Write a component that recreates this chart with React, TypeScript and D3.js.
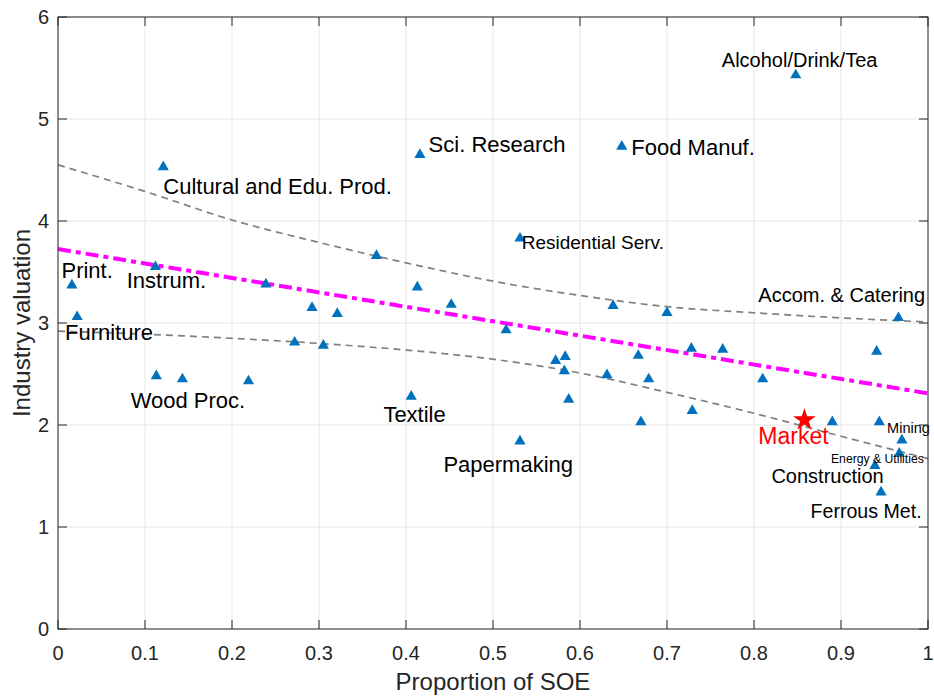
import React from "react";
import * as d3 from "d3";

// ---------- data ----------
const SOE_SHARE = [
  0.016, 0.022, 0.121, 0.112, 0.113, 0.143, 0.219, 0.239, 0.292, 0.321, 0.272,
  0.305, 0.416, 0.648, 0.531, 0.366, 0.413, 0.452, 0.638, 0.515, 0.572, 0.583,
  0.582, 0.631, 0.667, 0.679, 0.406, 0.587, 0.670, 0.531, 0.700, 0.966, 0.728,
  0.764, 0.941, 0.810, 0.729, 0.890, 0.944, 0.970, 0.967, 0.939, 0.946, 0.848,
];
const VALUATION = [
  3.37, 3.06, 4.53, 3.55, 2.48, 2.45, 2.43, 3.38, 3.15, 3.09, 2.81,
  2.78, 4.65, 4.73, 3.83, 3.66, 3.35, 3.18, 3.17, 2.93, 2.63, 2.67,
  2.53, 2.49, 2.68, 2.45, 2.28, 2.25, 2.03, 1.84, 3.10, 3.05, 2.75,
  2.74, 2.72, 2.45, 2.14, 2.03, 2.03, 1.85, 1.72, 1.60, 1.34, 5.43,
];

const MARKET_X = [0.858];
const MARKET_Y = [2.06];

const FIT_X = [0, 1];
const FIT_Y = [3.725, 2.31];

const BAND_X = [0, 0.1, 0.2, 0.3, 0.4, 0.5, 0.6, 0.7, 0.8, 0.9, 1.0];
const BAND_UPPER = [4.55, 4.29, 4.01, 3.79, 3.59, 3.41, 3.27, 3.16, 3.10, 3.05, 3.01];
const BAND_LOWER = [2.92, 2.89, 2.85, 2.80, 2.735, 2.645, 2.51, 2.32, 2.115, 1.89, 1.67];

const LABEL_TEXT = [
  "Alcohol/Drink/Tea", "Sci. Research", "Food Manuf.", "Cultural and Edu. Prod.",
  "Residential Serv.", "Print.", "Instrum.", "Furniture", "Wood Proc.", "Textile",
  "Papermaking", "Accom. & Catering", "Mining", "Energy & Utilities",
  "Construction", "Ferrous Met.",
];
const LABEL_X = [
  0.763, 0.426, 0.659, 0.121, 0.533, 0.004, 0.079, 0.008, 0.0835, 0.374,
  0.443, 0.805, 0.953, 0.8885, 0.820, 0.865,
];
const LABEL_Y = [
  5.51, 4.68, 4.65, 4.265, 3.73, 3.44, 3.34, 2.83, 2.17, 2.03,
  1.54, 3.21, 1.92, 1.63, 1.43, 1.085,
];
const LABEL_SIZE = [20, 22, 22, 22, 19, 22, 22, 22, 22, 22, 22, 20, 14.5, 12.2, 20, 19.6];

const MARKET_LABEL = ["Market"];
const MARKET_LABEL_X = [0.805];
const MARKET_LABEL_Y = [1.81];

const X_TICKS = [0, 0.1, 0.2, 0.3, 0.4, 0.5, 0.6, 0.7, 0.8, 0.9, 1];
const X_TICK_LABELS = ["0", "0.1", "0.2", "0.3", "0.4", "0.5", "0.6", "0.7", "0.8", "0.9", "1"];
const Y_TICKS = [0, 1, 2, 3, 4, 5, 6];
const Y_TICK_LABELS = ["0", "1", "2", "3", "4", "5", "6"];

const X_TITLE = "Proportion of SOE";
const Y_TITLE = "Industry valuation";

// ---------- layout ----------
const W = 934;
const H = 696;
const M = { left: 58, right: 928, top: 17, bottom: 629 };
const FONT = "'Liberation Sans', Arial, Helvetica, sans-serif";
const AXIS = "#262626";
const TICK_LEN = 9;

export default function App() {
  const x = d3.scaleLinear().domain([0, 1]).range([M.left, M.right]);
  const y = d3.scaleLinear().domain([0, 6]).range([M.bottom, M.top]);

  const bandLine = d3
    .line<number>()
    .x((_, i) => x(BAND_X[i]))
    .y((d) => y(d))
    .curve(d3.curveMonotoneX);

  const fitLine = d3
    .line<number>()
    .x((_, i) => x(FIT_X[i]))
    .y((d) => y(d));

  const tri = d3.symbol().type(d3.symbolTriangle).size(54)();
  const star = d3.symbol().type(d3.symbolStar).size(160)();

  return (
    <svg
      width={W}
      height={H}
      style={{ position: "absolute", left: 0, top: 0, background: "#fff" }}
      fontFamily={FONT}
    >
      <rect x={0} y={0} width={W} height={H} fill="#fff" />
      {/* grid */}
      <g stroke="#e6e6e6" strokeWidth={1}>
        {X_TICKS.map((t, i) => (
          <line key={"gx" + i} x1={x(t)} x2={x(t)} y1={M.top} y2={M.bottom} />
        ))}
        {Y_TICKS.map((t, i) => (
          <line key={"gy" + i} x1={M.left} x2={M.right} y1={y(t)} y2={y(t)} />
        ))}
      </g>

      {/* confidence bands */}
      <path d={bandLine(BAND_UPPER) || ""} fill="none" stroke="#808080" strokeWidth={1.7} strokeDasharray="7,5" />
      <path d={bandLine(BAND_LOWER) || ""} fill="none" stroke="#808080" strokeWidth={1.7} strokeDasharray="7,5" />

      {/* fit line */}
      <path d={fitLine(FIT_Y) || ""} fill="none" stroke="#ff00ff" strokeWidth={4} strokeDasharray="13,5,5,5" />

      {/* points */}
      <g fill="#0072bd">
        {SOE_SHARE.map((v, i) => (
          <path key={"p" + i} d={tri || ""} transform={`translate(${x(v)},${y(VALUATION[i])})`} />
        ))}
      </g>

      {/* market star */}
      {MARKET_X.map((v, i) => (
        <path key={"m" + i} d={star || ""} fill="#ff0000" transform={`translate(${x(v)},${y(MARKET_Y[i]) + 1})`} />
      ))}

      {/* labels */}
      {LABEL_TEXT.map((t, i) => (
        <text key={"l" + i} x={x(LABEL_X[i])} y={y(LABEL_Y[i])} fontSize={LABEL_SIZE[i]} fill="#000">
          {t}
        </text>
      ))}
      {MARKET_LABEL.map((t, i) => (
        <text key={"ml" + i} x={x(MARKET_LABEL_X[i])} y={y(MARKET_LABEL_Y[i])} fontSize={23} fill="#ff0000">
          {t}
        </text>
      ))}

      {/* axes box */}
      <rect
        x={M.left}
        y={M.top}
        width={M.right - M.left}
        height={M.bottom - M.top}
        fill="none"
        stroke={AXIS}
        strokeWidth={1}
      />
      <g stroke={AXIS} strokeWidth={1}>
        {X_TICKS.map((t, i) => (
          <g key={"tx" + i}>
            <line x1={x(t)} x2={x(t)} y1={M.bottom} y2={M.bottom - TICK_LEN} />
            <line x1={x(t)} x2={x(t)} y1={M.top} y2={M.top + TICK_LEN} />
          </g>
        ))}
        {Y_TICKS.map((t, i) => (
          <g key={"ty" + i}>
            <line x1={M.left} x2={M.left + TICK_LEN} y1={y(t)} y2={y(t)} />
            <line x1={M.right} x2={M.right - TICK_LEN} y1={y(t)} y2={y(t)} />
          </g>
        ))}
      </g>

      {/* tick labels */}
      <g fill={AXIS} fontSize={20}>
        {X_TICKS.map((t, i) => (
          <text key={"xl" + i} x={x(t)} y={M.bottom + 31} textAnchor="middle">
            {X_TICK_LABELS[i]}
          </text>
        ))}
        {Y_TICKS.map((t, i) => (
          <text key={"yl" + i} x={M.left - 9} y={y(t) + 7} textAnchor="end">
            {Y_TICK_LABELS[i]}
          </text>
        ))}
      </g>

      {/* axis titles */}
      <text x={(M.left + M.right) / 2} y={690} textAnchor="middle" fontSize={24} fill={AXIS}>
        {X_TITLE}
      </text>
      <text
        transform={`translate(30,${(M.top + M.bottom) / 2}) rotate(-90)`}
        textAnchor="middle"
        fontSize={24}
        fill={AXIS}
      >
        {Y_TITLE}
      </text>
    </svg>
  );
}
